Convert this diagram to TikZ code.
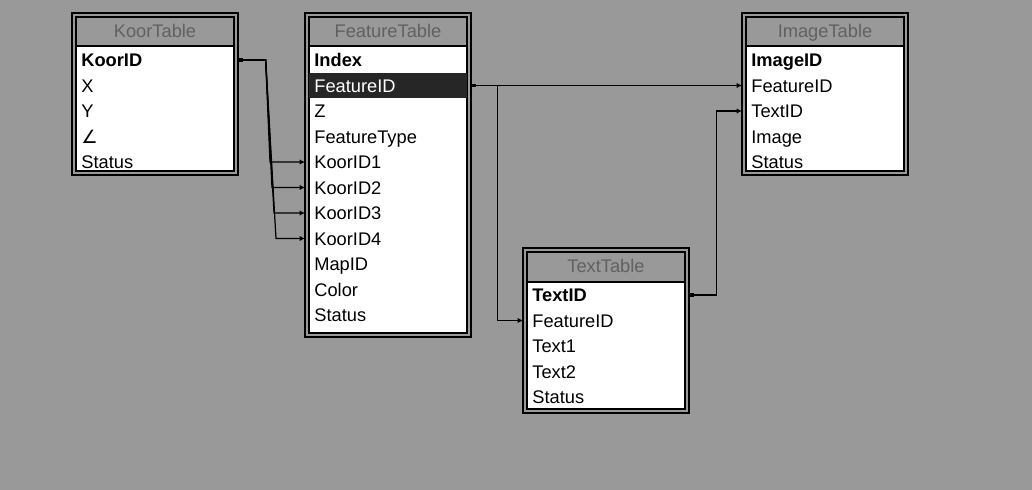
\documentclass[tikz,border=0pt]{standalone}
\usepackage{fontspec}
\setmainfont{Liberation Sans}
\newfontfamily\symfont{DejaVu Sans}
\usetikzlibrary{calc,arrows.meta,positioning}

\tikzset{
  frame/.style={draw=black,line width=0.6pt},
  body/.style={fill=white,draw=black,line width=0.6pt},
  title/.style={text=black!62,text height=10pt,text depth=2.6pt},
  field/.style={anchor=west,minimum width=3.32cm,minimum height=0.5cm,
    inner xsep=0.18cm,inner ysep=0pt,text width=2.96cm,align=left,
    text height=10pt,text depth=2.6pt},
  key/.style={field,font=\fontsize{10.4}{12}\selectfont\bfseries},
  hilite/.style={fill=black!85},
  link/.style={draw=black,line width=0.7pt,
    {Square[length=2.2pt,width=2.2pt]}-{Latex[length=3pt,width=3pt]}},
}

\begin{document}
\begin{tikzpicture}[x=0.02cm,y=-0.02cm,font=\fontsize{10.4}{12}\selectfont]
\useasboundingbox (0,0) rectangle (1032,490);
\fill[black!40] (0,0) rectangle (1032,490);
% ---- KoorTable ----
\draw[frame] (72,13) rectangle (238,175);
\draw[frame] (76,17) rectangle (234,171);
\draw[body] (76,46) rectangle (234,171);
\node[title] (ktitle) at (155,31) {KoorTable};
\node[key] (k1) at (72,60) {KoorID};
\node[field] (k2) at (72,85.5) {X};
\node[field] (k3) at (72,111) {Y};
\node[field] (k4) at (72,136.5) {{\symfont ∠}};
\node[field] (k5) at (72,162) {Status};
% ---- FeatureTable ----
\draw[frame] (305,13) rectangle (471,337);
\draw[frame] (309,17) rectangle (467,333);
\draw[body] (309,46) rectangle (467,333);
\fill[hilite] (309,73) rectangle (467,98);
\node[title] (ftitle) at (388,31) {FeatureTable};
\node[key] (f1) at (305,60) {Index};
\node[field,text=white] (f2) at (305,85.5) {FeatureID};
\node[field] (f3) at (305,111) {Z};
\node[field] (f4) at (305,136.5) {FeatureType};
\node[field] (f5) at (305,162) {KoorID1};
\node[field] (f6) at (305,187.5) {KoorID2};
\node[field] (f7) at (305,213) {KoorID3};
\node[field] (f8) at (305,238.5) {KoorID4};
\node[field] (f9) at (305,264) {MapID};
\node[field] (f10) at (305,289.5) {Color};
\node[field] (f11) at (305,315) {Status};
% ---- TextTable ----
\draw[frame] (523,248) rectangle (689,413);
\draw[frame] (527,252) rectangle (685,409);
\draw[body] (527,282) rectangle (685,409);
\node[title] (ttitle) at (606,266) {TextTable};
\node[key] (t1) at (523,295) {TextID};
\node[field] (t2) at (523,320.5) {FeatureID};
\node[field] (t3) at (523,346) {Text1};
\node[field] (t4) at (523,371.5) {Text2};
\node[field] (t5) at (523,397) {Status};
% ---- ImageTable ----
\draw[frame] (742,13) rectangle (908,175);
\draw[frame] (746,17) rectangle (904,171);
\draw[body] (746,46) rectangle (904,171);
\node[title] (ititle) at (825,31) {ImageTable};
\node[key] (i1) at (742,60) {ImageID};
\node[field] (i2) at (742,85.5) {FeatureID};
\node[field] (i3) at (742,111) {TextID};
\node[field] (i4) at (742,136.5) {Image};
\node[field] (i5) at (742,162) {Status};
% ---- relations ----
\draw[link] (k1.east) -- ++(27,0) -- ($(f5.west)+(-35,0)$) -- (f5.west);
\draw[link] (k1.east) -- ++(27,0) -- ($(f6.west)+(-33,0)$) -- (f6.west);
\draw[link] (k1.east) -- ++(27,0) -- ($(f7.west)+(-31,0)$) -- (f7.west);
\draw[link] (k1.east) -- ++(27,0) -- ($(f8.west)+(-29,0)$) -- (f8.west);
\draw[link] (f2.east) -- (i2.west);
\draw[link] (f2.east) -- ++(26,0) |- (t2.west);
\draw[link] (t1.east) -- ++(27,0) |- (i3.west);
\end{tikzpicture}
\end{document}
